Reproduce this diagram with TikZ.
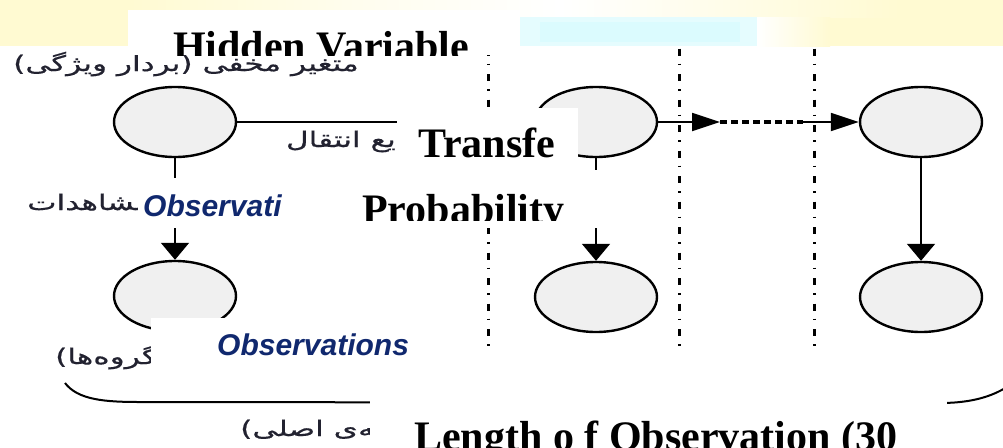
\documentclass[tikz,border=0pt]{standalone}
\usepackage{fontspec}
\setmainfont{Liberation Serif}
\newfontfamily\arialfont{Liberation Sans}
\newfontfamily\farsifont[Script=Arabic,FakeStretch=1.45,FakeBold=0.6]{DejaVu Sans}
\usetikzlibrary{shapes.geometric,arrows.meta}
\TeXXeTstate=1
\definecolor{bandyellow}{HTML}{FFFAD2}
\definecolor{bandcyan}{HTML}{D4FAFE}
\definecolor{nodefill}{HTML}{F0F0F0}
\definecolor{navy}{HTML}{10286E}
\definecolor{fatext}{HTML}{222230}
\begin{document}
\begin{tikzpicture}[x=1pt,y=-1pt,
 state/.style={ellipse, draw=black, line width=2.4pt, fill=nodefill, minimum width=122pt, minimum height=70pt, inner sep=0pt},
 harrow/.style={line width=1.8pt, -{Triangle[length=28pt,width=18pt]}},
 varrow/.style={line width=1.8pt, -{Triangle[length=17pt,width=28pt]}},
 sepline/.style={line width=3pt, dash pattern=on 7pt off 8pt on 1.5pt off 9pt},
 dotlink/.style={line width=4pt, dash pattern=on 7pt off 4pt},
 cover/.style={fill=white, draw=none},
 bigtext/.style={font=\fontsize{42}{48}\selectfont\bfseries, anchor=base west, inner sep=0pt},
 obstext/.style={font=\arialfont\fontsize{30}{36}\selectfont\bfseries\itshape, text=navy, anchor=base west, inner sep=0pt},
 fatxt/.style={font=\farsifont\fontsize{21.5}{26}\selectfont, text=fatext, inner sep=0pt},
]
\useasboundingbox (0,0) rectangle (1003,447);
\clip (0,0) rectangle (1003,447);
% background
\fill[white] (0,0) rectangle (1003,447);
% top band
\fill[bandyellow] (0,0) rectangle (1003,46);
\shade[left color=bandyellow, right color=white, middle color=white!60!bandyellow] (130,0) rectangle (560,17);
\shade[left color=white, right color=bandyellow] (560,0) rectangle (900,17);
\fill[white] (520,17) rectangle (815,46);
\shade[left color=white, right color=bandyellow] (757,17) rectangle (830,46);
\fill[bandcyan!60!white] (520,17) rectangle (757,46);
\fill[bandcyan!85!white] (540,22) rectangle (740,42);
% separators
\coordinate (s1t) at (488,48.7); \coordinate (s1b) at (488,347);
\coordinate (s2t) at (679,48.7); \coordinate (s2b) at (679,347);
\coordinate (s3t) at (814,48.7); \coordinate (s3b) at (814,347);
\draw[sepline] (s1t) -- (s1b);
\draw[sepline] (s2t) -- (s2b);
\draw[sepline] (s3t) -- (s3b);
% states
\node[state] (h1) at (175,122) {};
\node[state] (o1) at (175,296) {};
\node[state] (h2) at (596,122) {};
\node[state] (o2) at (596,297) {};
\node[state] (h3) at (921,122) {};
\node[state] (o3) at (921,297) {};
\coordinate (m1) at (720,122);
\coordinate (m2) at (803,122);
\draw[harrow] (h1) -- (h2);
\draw[varrow] (h1) -- (o1);
\draw[varrow] (h2) -- (o2);
\draw[varrow] (h3) -- (o3);
\draw[harrow] (h2.east) -- (m1);
\draw[dotlink] (m1) -- (m2);
\draw[harrow] (m2) -- (h3.west);
% brace
\coordinate (b0) at (65,383);
\coordinate (b1) at (140,402);
\coordinate (b2) at (940,403);
\coordinate (b3) at (1010,385);
\draw[line width=2pt] (b0) .. controls (78,400) and (105,402) .. (b1) -- (b2) .. controls (975,403) and (995,395) .. (b3);
% persian labels
\node[fatxt, anchor=base west] (t1) at (13,71) {\beginR متغیر مخفی (بردار ویژگی)\endR};
\node[fatxt, anchor=base east] (t2) at (396,147) {\beginR یع انتقال\endR};
\node[fatxt, anchor=base west] (t3) at (27,210) {\beginR مشاهدات\endR};
\node[fatxt, anchor=base west] (t4) at (55,364) {\beginR گروه‌ها)\endR};
\node[fatxt, anchor=base west] (t5) at (240,436) {\beginR ـه‌ی اصلی)\endR};
% overlay boxes
\begin{scope}
\clip (128,10) rectangle (520,55);
\fill[white] (128,10) rectangle (520,55);
\node[bigtext] (hv) at (173,60) {Hidden Variable};
\end{scope}
\fill[cover] (397,108) rectangle (578,170);
\node[bigtext] (tr) at (418,157) {Transfe};
\begin{scope}
\fill[cover] (310,170) rectangle (610,228);
\clip (310,170) rectangle (610,220);
\node[bigtext] (pr) at (362,223) {Probability};
\end{scope}
\fill[cover] (138,178) rectangle (300,228);
\node[obstext] (ob1) at (143,216) {Observati};
\fill[cover] (151,318) rectangle (470,395);
\node[obstext] (ob2) at (217,355) {Observations};
\fill[cover] (370,395) rectangle (947,447);
\node[bigtext] (len) at (414,450) {Length o f Observation (30};
\end{tikzpicture}
\end{document}
